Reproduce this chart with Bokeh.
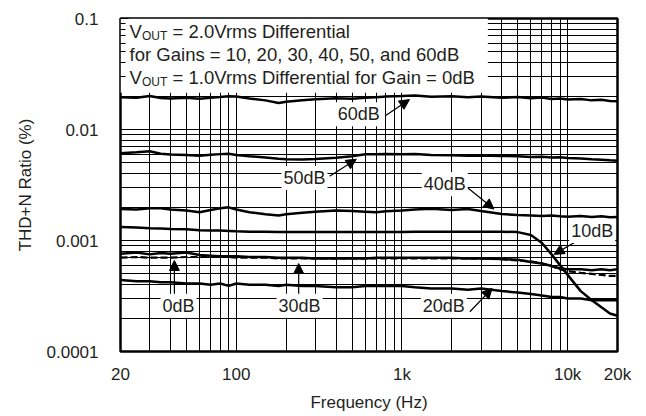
from bokeh.plotting import figure
from bokeh.models import FixedTicker, CustomJSTickFormatter, Label, Arrow, NormalHead
from bokeh.embed import file_html
from bokeh.resources import INLINE

# ---------------- data ----------------
freq_hz = [20, 25, 30, 35, 40, 50, 60, 70, 80, 90,
           100, 120, 150, 180, 200, 250, 300, 400, 500, 600,
           700, 800, 1000, 1200, 1500, 2000, 2500, 3000, 4000, 5000,
           6000, 7000, 8000, 9000, 10000, 12000, 14000, 16000, 18000, 20000]

thd_60db = [0.0195, 0.0193, 0.0200, 0.0192, 0.0190, 0.0193, 0.0189, 0.0193, 0.0196, 0.0199,
            0.0198, 0.0190, 0.0183, 0.0173, 0.0178, 0.0183, 0.0187, 0.0191, 0.0189, 0.0193,
            0.0195, 0.0198, 0.0200, 0.0202, 0.0197, 0.0199, 0.0195, 0.0198, 0.0193, 0.0196,
            0.0191, 0.0194, 0.0188, 0.0190, 0.0186, 0.0188, 0.0183, 0.0185, 0.0181, 0.0180]

thd_50db = [0.00612, 0.00625, 0.00638, 0.00605, 0.00595, 0.00590, 0.00580, 0.00592, 0.00600, 0.00605,
            0.00590, 0.00575, 0.00560, 0.00545, 0.00540, 0.00538, 0.00542, 0.00556, 0.00575, 0.00598,
            0.00600, 0.00602, 0.00600, 0.00603, 0.00590, 0.00585, 0.00580, 0.00584, 0.00578, 0.00575,
            0.00565, 0.00568, 0.00560, 0.00562, 0.00555, 0.00548, 0.00540, 0.00535, 0.00528, 0.00522]

thd_40db = [0.00192, 0.00190, 0.00195, 0.00195, 0.00190, 0.00186, 0.00180, 0.00188, 0.00195, 0.00199,
            0.00190, 0.00180, 0.00172, 0.00168, 0.00172, 0.00178, 0.00182, 0.00186, 0.00184, 0.00182,
            0.00180, 0.00183, 0.00186, 0.00190, 0.00193, 0.00188, 0.00192, 0.00184, 0.00173, 0.00170,
            0.00168, 0.00166, 0.00168, 0.00165, 0.00164, 0.00166, 0.00163, 0.00165, 0.00162, 0.00163]

thd_10db = [0.00132, 0.00131, 0.00129, 0.00128, 0.00127, 0.00126, 0.00124, 0.00123, 0.00123, 0.00122,
            0.00121, 0.00120, 0.00120, 0.00119, 0.00119, 0.00119, 0.00119, 0.00119, 0.00119, 0.00119,
            0.00119, 0.00119, 0.00119, 0.00120, 0.00120, 0.00120, 0.00120, 0.00120, 0.00120, 0.00119,
            0.00112, 0.00095, 0.00075, 0.00060, 0.00049, 0.00035, 0.00029, 0.00025, 0.00022, 0.00021]

thd_30db = [0.00076, 0.00078, 0.00075, 0.00077, 0.00076, 0.00078, 0.00074, 0.00073, 0.00072, 0.00072,
            0.00072, 0.00071, 0.00071, 0.00070, 0.00070, 0.00070, 0.00069, 0.00069, 0.00069, 0.00069,
            0.00070, 0.00070, 0.00070, 0.00070, 0.00070, 0.00070, 0.00069, 0.00069, 0.00068, 0.00067,
            0.00064, 0.00062, 0.00059, 0.00056, 0.00055, 0.00055, 0.00054, 0.00055, 0.00054, 0.00055]

thd_0db = [0.00070, 0.00071, 0.00070, 0.00070, 0.00070, 0.00071, 0.00071, 0.00071, 0.00071, 0.00071,
           0.00070, 0.00070, 0.00070, 0.00069, 0.00069, 0.00069, 0.00069, 0.00069, 0.00069, 0.00069,
           0.00069, 0.00069, 0.00069, 0.00069, 0.00069, 0.00069, 0.00069, 0.00069, 0.00068, 0.00066,
           0.00065, 0.00062, 0.00059, 0.00055, 0.00053, 0.00051, 0.00050, 0.00049, 0.00048, 0.00048]

thd_20db = [0.00044, 0.00043, 0.00043, 0.00042, 0.00042, 0.00041, 0.00041, 0.00040, 0.00041, 0.00039,
            0.00041, 0.00040, 0.00040, 0.00039, 0.00040, 0.00039, 0.00039, 0.00038, 0.00038, 0.00039,
            0.00039, 0.00039, 0.00039, 0.00038, 0.00037, 0.00037, 0.00036, 0.00037, 0.00035, 0.00034,
            0.00033, 0.00032, 0.00031, 0.00031, 0.00030, 0.00030, 0.00029, 0.00029, 0.00029, 0.00029]

x_major_ticks = [20, 100, 1000, 10000, 20000]
x_minor_ticks = [30, 40, 50, 60, 70, 80, 90,
                 200, 300, 400, 500, 600, 700, 800, 900,
                 2000, 3000, 4000, 5000, 6000, 7000, 8000, 9000]
y_major_ticks = [0.0001, 0.001, 0.01, 0.1]
y_minor_ticks = [0.0002, 0.0003, 0.0004, 0.0005, 0.0006, 0.0007, 0.0008, 0.0009,
                 0.002, 0.003, 0.004, 0.005, 0.006, 0.007, 0.008, 0.009,
                 0.02, 0.03, 0.04, 0.05, 0.06, 0.07, 0.08, 0.09]

# curve callouts: text, label (f, v), arrow start (f, v), arrow tip (f, v)
callouts = [
    ("60dB", 548, 0.01373, 790, 0.0132, 1110, 0.0186),
    ("50dB", 258, 0.00365, 366, 0.0038, 530, 0.0054),
    ("40dB", 1812, 0.00322, 2460, 0.00303, 3590, 0.00192),
    ("10dB", 14060, 0.00122, 11380, 0.00099, 8280, 0.00075),
    ("20dB", 1788, 0.000258, 2570, 0.000228, 3500, 0.00037),
    ("0dB", 44.8, 0.000258, 42.3, 0.000318, 42.3, 0.00066),
    ("30dB", 241, 0.000258, 238, 0.000318, 238, 0.00062),
]

FONT = "Liberation Sans"
TXT = "#231f20"

p = figure(width=642, height=414, x_axis_type="log", y_axis_type="log",
           x_range=(20, 20000), y_range=(0.0001, 0.1),
           output_backend="svg", toolbar_location=None,
           min_border_left=120, min_border_right=25, min_border_top=18, min_border_bottom=60,
           background_fill_color="white", border_fill_color="white")

xt = FixedTicker(ticks=x_major_ticks, minor_ticks=x_minor_ticks)
yt = FixedTicker(ticks=y_major_ticks, minor_ticks=y_minor_ticks)
p.xaxis.ticker = xt
p.yaxis.ticker = yt
p.xgrid.ticker = xt
p.ygrid.ticker = yt

p.xaxis.formatter = CustomJSTickFormatter(code="return tick >= 1000 ? (tick/1000) + 'k' : String(tick);")
p.yaxis.formatter = CustomJSTickFormatter(code="return String(Number(tick.toPrecision(1)));")

for g in (p.xgrid, p.ygrid):
    g.grid_line_color = "black"
    g.grid_line_width = 1
    g.minor_grid_line_color = "black"
    g.minor_grid_line_width = 1

p.outline_line_color = "black"
p.outline_line_width = 2.5

for ax in (p.xaxis, p.yaxis):
    ax.axis_line_color = None
    ax.major_label_text_font = FONT
    ax.major_label_text_font_size = "17px"
    ax.major_label_text_color = TXT
    ax.axis_label_text_font = FONT
    ax.axis_label_text_font_size = "17px"
    ax.axis_label_text_font_style = "normal"
    ax.axis_label_text_color = TXT
    ax.major_tick_out = 0
    ax.minor_tick_out = 0
    ax.major_tick_line_color = "black"
    ax.minor_tick_line_color = "black"

p.xaxis.major_tick_in = 0
p.xaxis.minor_tick_in = 0
p.xaxis.major_label_standoff = 13
p.xaxis.axis_label = "Frequency (Hz)"
p.xaxis.axis_label_standoff = 6

p.yaxis.major_tick_in = 8
p.yaxis.minor_tick_in = 5
p.yaxis.major_label_standoff = 22
p.yaxis.axis_label = "THD+N Ratio (%)"
p.yaxis.axis_label_standoff = 9

# white note box in the upper-left corner
p.quad(left=[20], right=[3300], bottom=[0.0214], top=[0.1],
       fill_color="white", line_color=None)

# curves
for vals in (thd_60db, thd_50db, thd_40db, thd_10db, thd_30db, thd_20db):
    p.line(freq_hz, vals, line_color="black", line_width=2.5)
p.line(freq_hz, thd_0db, line_color="black", line_width=2.2, line_dash="7 3")

# note text
note_x = 22.7
note_lines = [
    (0.0764, True, "= 2.0Vrms Differential"),
    (0.0475, False, "for Gains = 10, 20, 30, 40, 50, and 60dB"),
    (0.0295, True, "= 1.0Vrms Differential for Gain = 0dB"),
]
for yv, has_v, rest in note_lines:
    if has_v:
        p.add_layout(Label(x=note_x, y=yv, text="V", text_font=FONT, text_font_size="18.5px",
                           text_color=TXT, text_baseline="middle", text_align="left"))
        p.add_layout(Label(x=note_x, y=yv, x_offset=12.3, y_offset=-5, text="OUT", text_font=FONT,
                           text_font_size="12px", text_color=TXT, text_baseline="middle",
                           text_align="left"))
        p.add_layout(Label(x=note_x, y=yv, x_offset=43, text=rest, text_font=FONT,
                           text_font_size="18.5px", text_color=TXT, text_baseline="middle",
                           text_align="left"))
    else:
        p.add_layout(Label(x=note_x, y=yv, text=rest, text_font=FONT, text_font_size="18.5px",
                           text_color=TXT, text_baseline="middle", text_align="left"))

# callouts
for txt, lx, ly, ax0, ay0, ax1, ay1 in callouts:
    p.add_layout(Arrow(end=NormalHead(size=10, fill_color="black", line_color="black"),
                       x_start=ax0, y_start=ay0, x_end=ax1, y_end=ay1,
                       line_color="black", line_width=1.2))
    p.add_layout(Label(x=lx, y=ly, text=txt, text_font=FONT, text_font_size="18px",
                       text_color=TXT, text_align="center", text_baseline="middle",
                       background_fill_color="white", padding=2))

open("out.html", "w").write(file_html(p, INLINE))
